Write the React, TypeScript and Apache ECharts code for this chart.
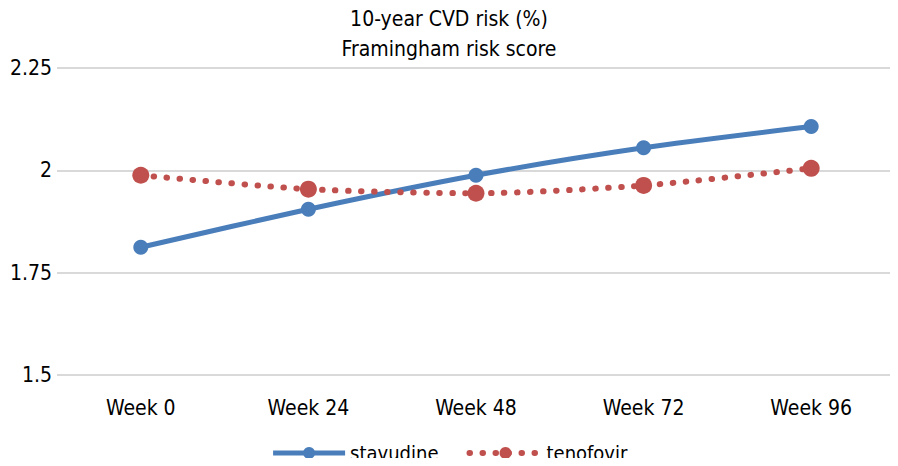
import React, { useEffect, useRef } from "react";
import * as echarts from "echarts";

const categories = ["Week 0", "Week 24", "Week 48", "Week 72", "Week 96"];
const stavudine = [1.812, 1.905, 1.988, 2.055, 2.107];
const tenofovir = [1.988, 1.954, 1.944, 1.963, 2.005];
const titleLines = ["10-year CVD risk (%)", "Framingham risk score"];

const FONT = "'Liberation Sans Narrow', 'DejaVu Sans Condensed', 'Open Sans', sans-serif";
const FS = 21;

export default function App() {
  const ref = useRef<HTMLDivElement>(null);
  useEffect(() => {
    if (!ref.current) return;
    const chart = echarts.init(ref.current, null, { renderer: "svg" });
    chart.setOption({
      animation: false,
      backgroundColor: "#ffffff",
      textStyle: { fontFamily: FONT },
      title: {
        text: titleLines.join("\n"),
        left: "center",
        top: -1,
        textStyle: { fontFamily: FONT, fontSize: FS, fontWeight: "normal", color: "#000", lineHeight: 30 },
      },
      grid: { left: 57, right: 3, top: 68, bottom: 91 },
      legend: {
        top: 442,
        left: "center",
        padding: 0,
        itemWidth: 72,
        itemHeight: 15,
        itemGap: 28,
        textStyle: { fontFamily: FONT, fontSize: 20, color: "#000", lineHeight: 22 },
        data: [
          { name: "stavudine", lineStyle: { width: 5 } },
          { name: "tenofovir", lineStyle: { width: 6 } },
        ],
      },
      xAxis: {
        type: "category",
        data: categories,
        boundaryGap: true,
        axisLine: { show: false },
        axisTick: { show: false },
        axisLabel: { fontFamily: FONT, fontSize: FS, color: "#000", margin: 22 },
      },
      yAxis: {
        type: "value",
        min: 1.5,
        max: 2.25,
        interval: 0.25,
        axisLine: { show: false },
        axisTick: { show: false },
        axisLabel: { fontFamily: FONT, fontSize: FS, color: "#000", margin: 5 },
        splitLine: { lineStyle: { color: "#d9d9d9", width: 2 } },
      },
      series: [
        {
          name: "stavudine",
          type: "line",
          data: stavudine,
          smooth: 0.25,
          symbol: "circle",
          symbolSize: 15,
          itemStyle: { color: "#4a7ebb" },
          lineStyle: { color: "#4a7ebb", width: 5 },
        },
        {
          name: "tenofovir",
          type: "line",
          data: tenofovir,
          smooth: 0.25,
          symbol: "circle",
          symbolSize: 17,
          itemStyle: { color: "#c0504d" },
          lineStyle: { color: "#c0504d", width: 6, type: [0.5, 12.5], cap: "round" },
        },
      ],
    });
    return () => chart.dispose();
  }, []);
  return <div ref={ref} style={{ width: 898, height: 466, margin: -8 }} />;
}
